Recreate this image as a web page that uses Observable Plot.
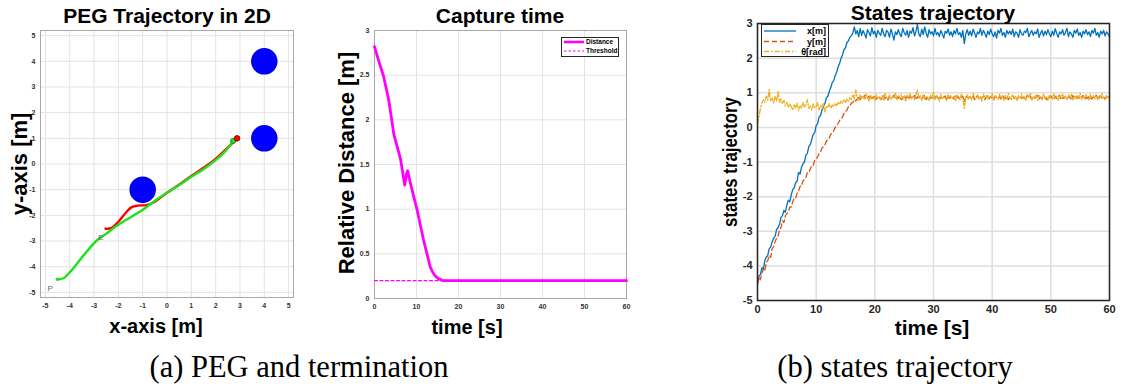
<!DOCTYPE html>
<html><head><meta charset="utf-8">
<script src="https://cdn.jsdelivr.net/npm/d3@7"></script>
<script src="https://cdn.jsdelivr.net/npm/@observablehq/plot@0.6"></script>
<style>
body{margin:0;background:#fff;}
#fig{position:relative;width:1121px;height:385px;overflow:hidden;background:#fff;font-family:"Liberation Sans",Arial,sans-serif;}
.t{position:absolute;white-space:nowrap;font-weight:bold;color:#000;transform:translate(-50%,-50%);line-height:1;}
.cap{font-family:"Liberation Serif",serif;font-weight:normal;}
.panel{position:absolute;top:0;}
.panel svg{overflow:visible;}
</style></head><body><div id="fig"></div>
<script>
// ---------- Panel (a) left: PEG trajectory ----------
const pegTicks = [-5,-4,-3,-2,-1,0,1,2,3,4,5];
const obstacleX = [4, 4, -1];
const obstacleY = [4, 1, -1];
const pursuerX = [-4.5,-4.25,-3.97,-3.42,-2.88,-2.53,-2.05,-1.51,-0.96,-0.41,0,0.55,1.0,1.5,2.0,2.4,2.72];
const pursuerY = [-4.49,-4.45,-4.19,-3.55,-2.97,-2.74,-2.4,-2.08,-1.76,-1.37,-1.12,-0.79,-0.5,-0.2,0.15,0.5,0.9];
const evaderX = [-2.53,-2.3,-2.0,-1.65,-1.45,-1.2,-0.85,-0.6,-0.3,0,0.55,1.0,1.5,2.0,2.4,2.88];
const evaderY = [-2.52,-2.5,-2.25,-1.85,-1.68,-1.62,-1.6,-1.52,-1.33,-1.12,-0.77,-0.47,-0.15,0.2,0.55,1.0];
const markLabels = ["P","E"];
const markLabelX = [-4.8,-2.72];
const markLabelY = [-4.85,-2.85];

// ---------- Panel (a) right: capture time ----------
const capTicksX = [0,10,20,30,40,50,60];
const capTicksY = [0,0.5,1,1.5,2,2.5,3];
const distT = [0,1,2.2,3.4,4.6,6.2,7.2,7.6,7.9,8.4,10.2,11.7,13.3,13.8,14.5,15.3,16.3,20,30,40,50,60];
const distV = [2.82,2.66,2.48,2.22,1.84,1.56,1.27,1.39,1.43,1.32,0.98,0.65,0.35,0.3,0.25,0.22,0.2,0.2,0.2,0.2,0.2,0.2];
const thresholdT = [0,60];
const thresholdV = [0.2,0.2];

// ---------- Panel (b): states trajectory ----------
const statesTicksX = [0,10,20,30,40,50,60];
const statesTicksY = [-5,-4,-3,-2,-1,0,1,2,3];
const DT = 0.25; // sample step [s]
const xState = [
-4.5,-4.3,-4.25,-4.05, -4.1,-3.85,-3.75,-3.7, -3.5,-3.45,-3.3,-3.2, -3.15,-2.95,-2.9,-2.8,
-2.6,-2.55,-2.4,-2.45, -2.25,-2.1,-2.15,-1.95, -1.8,-1.75,-1.6,-1.55, -1.3,-1.35,-1.15,-1.05,
-1.0,-0.8,-0.75,-0.55, -0.5,-0.35,-0.2,-0.15, 0.05,0.1,0.3,0.35, 0.5,0.6,0.7,0.85,
0.9,1.05,1.15,1.3, 1.35,1.5,1.6,1.75, 1.85,2.0,2.1,2.25, 2.3,2.45,2.5,2.6,
2.65,2.72,2.9,2.7, 2.8,
2.62,2.85,2.66,2.8, 2.7,2.58,2.82,2.74, 2.64,2.88,2.7,2.78, 2.6,2.8,2.72,2.66,
2.86,2.7,2.62,2.8, 2.75,2.6,2.84,2.7, 2.52,2.76,2.68,2.82, 2.7,2.62,2.86,2.74,
2.66,2.8,2.6,2.78, 2.72,2.88,2.64,2.76, 2.97,2.7,2.62,2.84, 2.68,2.9,2.72,2.6,
2.82,2.7,2.76,2.64, 2.86,2.68,2.74,2.62, 2.8,2.7,2.58,2.78, 2.72,2.84,2.66,2.76,
2.62,2.8,2.7,2.86, 2.68,2.74,2.6,2.8, 2.42,2.7,2.82,2.66, 2.78,2.64,2.84,2.72,
2.6,2.76,2.7,2.86, 2.66,2.8,2.72,2.6, 2.78,2.68,2.84,2.7, 2.62,2.76,2.58,2.8,
2.72,2.86,2.66,2.74, 2.6,2.8,2.7,2.78, 2.68,2.84,2.62,2.76, 2.72,2.6,2.82,2.7,
2.66,2.78,2.74,2.86, 2.62,2.72,2.8,2.66, 2.76,2.7,2.84,2.6, 2.72,2.8,2.64,2.78,
2.68,2.82,2.7,2.62, 2.78,2.66,2.85,2.72, 2.6,2.76,2.7,2.82, 2.66,2.74,2.86,2.62,
2.76,2.7,2.6,2.8, 2.72,2.84,2.66,2.74, 2.6,2.78,2.7,2.82, 2.68,2.76,2.62,2.8,
2.72,2.86,2.66,2.74, 2.6,2.78,2.7,2.8, 2.64,2.76,2.7,2.62];
const yState = [
-4.55,-4.35,-4.4,-4.2, -4.1,-4.15,-3.9,-3.85, -3.7,-3.75,-3.5,-3.45, -3.3,-3.2,-3.15,-2.95,
-2.9,-2.7,-2.75,-2.55, -2.5,-2.45,-2.3,-2.3, -2.15,-2.05,-2.05,-1.9, -1.85,-1.7,-1.7,-1.55,
-1.5,-1.45,-1.3,-1.3, -1.2,-1.1,-1.1,-0.95, -0.9,-0.85,-0.75,-0.7, -0.6,-0.55,-0.5,-0.4,
-0.35,-0.3,-0.2,-0.15, -0.1,0.0,0.05,0.12, 0.2,0.25,0.3,0.4, 0.45,0.5,0.6,0.62,
0.7,0.72,0.8,0.76, 0.82,
0.9,0.8,0.88,0.84, 0.92,0.82,0.86,0.9, 0.8,0.88,0.84,0.93, 0.82,0.87,0.9,0.8,
0.86,0.92,0.83,0.88, 0.79,0.9,0.85,0.87, 0.92,0.82,0.88,0.84, 0.9,0.8,0.86,0.93,
0.84,0.88,0.81,0.9, 0.86,0.83,0.92,0.8, 0.88,0.85,0.9,0.82, 0.87,0.93,0.8,0.86,
0.9,0.84,0.88,0.82, 0.85,0.92,0.8,0.87, 0.83,0.89,0.86,0.91, 0.8,0.87,0.84,0.9,
0.86,0.82,0.92,0.85, 0.88,0.8,0.87,0.9, 0.74,0.86,0.92,0.83, 0.88,0.84,0.9,0.8,
0.86,0.92,0.82,0.88, 0.84,0.9,0.8,0.87, 0.92,0.83,0.88,0.85, 0.8,0.9,0.86,0.84,
0.88,0.82,0.93,0.86, 0.84,0.9,0.8,0.87, 0.86,0.92,0.83,0.88, 0.8,0.87,0.9,0.84,
0.88,0.82,0.86,0.93, 0.85,0.9,0.8,0.87, 0.84,0.88,0.92,0.82, 0.87,0.83,0.9,0.86,
0.8,0.88,0.85,0.91, 0.86,0.82,0.9,0.84, 0.88,0.93,0.8,0.86, 0.84,0.9,0.83,0.88,
0.86,0.8,0.92,0.85, 0.9,0.84,0.87,0.82, 0.88,0.92,0.8,0.86, 0.84,0.9,0.86,0.82,
0.88,0.85,0.93,0.8, 0.86,0.9,0.84,0.88, 0.82,0.92,0.86,0.9];
const thetaState = [
0.1,0.3,0.55,0.7, 0.8,0.72,0.9,0.78, 1.1,0.75,0.85,0.7, 0.9,0.76,1.05,0.72,
0.82,0.68,0.78,0.62, 0.72,0.58,0.68,0.6, 0.5,0.65,0.55,0.7, 0.48,0.62,0.56,0.72,
0.58,0.66,0.8,0.55, 0.62,0.5,0.68,0.56, 0.6,0.72,0.5,0.64, 0.55,0.7,0.45,0.62,
0.58,0.68,0.55,0.65, 0.6,0.7,0.62,0.74, 0.66,0.76,0.7,0.8, 0.72,0.82,0.75,0.86,
0.8,0.95,0.82,1.08, 0.86,
0.78,0.95,0.84,0.92, 0.8,0.98,0.86,0.76, 0.94,0.82,0.9,0.78, 0.96,0.84,0.88,0.8,
0.92,0.76,0.98,0.86, 0.82,0.94,0.8,0.9, 0.86,1.0,0.78,0.92, 0.84,0.96,0.8,0.9,
0.76,0.94,0.86,0.98, 0.82,0.9,0.8,0.95, 1.08,0.84,0.92,0.78, 0.96,0.82,0.9,0.86,
0.78,0.94,0.84,1.02, 0.8,0.92,0.86,0.76, 0.95,0.82,0.9,0.84, 0.78,0.96,0.86,0.92,
0.82,0.9,0.76,0.94, 0.86,0.8,0.96,0.84, 0.55,0.88,0.94,0.8, 0.92,0.78,0.98,0.86,
0.84,0.94,0.8,0.9, 0.76,0.96,0.86,0.92, 0.82,0.9,0.84,0.98, 0.78,0.92,0.86,0.8,
0.96,0.84,0.9,0.78, 0.92,0.82,0.98,0.86, 0.8,0.94,0.84,0.9, 0.76,0.92,0.86,0.96,
0.82,0.9,0.78,0.94, 0.86,1.0,0.8,0.9, 0.84,0.94,0.78,0.92, 0.88,0.8,0.96,0.84,
0.9,0.78,0.94,0.86, 0.82,0.98,0.84,0.9, 0.78,0.92,0.86,0.96, 0.84,0.9,0.8,0.94,
0.86,0.96,0.78,0.9, 0.82,0.92,0.86,0.98, 0.8,0.9,0.84,0.94, 0.88,0.78,0.96,0.86,
0.92,0.82,0.9,0.8, 0.94,0.84,0.98,0.86, 0.8,0.92,0.86,0.9];
const seriesNames = ["x[m]","y[m]","\u03b8[rad]"];

// ---------- build tables ----------
const zipXY = (xs, ys) => xs.map((x,i) => ({x, y: ys[i]}));
const obstacles = zipXY(obstacleX, obstacleY);
const pursuer = zipXY(pursuerX, pursuerY);
const evader = zipXY(evaderX, evaderY);
const labels = markLabels.map((s,i) => ({s, x: markLabelX[i], y: markLabelY[i]}));
const dist = zipXY(distT, distV);
const thr = zipXY(thresholdT, thresholdV);
const toSeries = arr => arr.map((v,i) => ({t: i*DT, v}));
const sx = toSeries(xState), sy = toSeries(yState), sth = toSeries(thetaState);

const fig = document.getElementById("fig");
const FONT = '"Liberation Sans", Arial, sans-serif';

function addPanel(left, svg){
  const d = document.createElement("div");
  d.className = "panel"; d.style.left = left + "px";
  d.appendChild(svg); fig.appendChild(d);
}
function addText(txt, cx, cy, size, opts = {}){
  const d = document.createElement("div");
  d.className = "t" + (opts.cls ? " " + opts.cls : "");
  d.textContent = txt;
  d.style.left = cx + "px"; d.style.top = cy + "px";
  d.style.fontSize = size + "px";
  let tr = "translate(-50%,-50%)";
  if (opts.rot) tr += " rotate(-90deg)";
  if (opts.sx) tr += ` scaleX(${opts.sx})`;
  d.style.transform = tr;
  fig.appendChild(d);
}

// Panel 1
addPanel(0, Plot.plot({
  width: 310, height: 345, marginLeft: 40, marginRight: 17, marginTop: 30, marginBottom: 48,
  style: {fontFamily: FONT, background: "transparent"},
  x: {domain: [-5.2, 5.2]}, y: {domain: [-5.2, 5.2]},
  marks: [
    Plot.gridX(pegTicks, {stroke: "#e3e3e3", strokeOpacity: 1}),
    Plot.gridY(pegTicks, {stroke: "#e3e3e3", strokeOpacity: 1}),
    Plot.frame({stroke: "#a8a8a8"}),
    Plot.axisX(pegTicks, {tickSize: 0, tickPadding: 6, fontSize: 7, fontWeight: "bold", fill: "#333", tickFormat: String, label: null}),
    Plot.axisY(pegTicks, {tickSize: 0, tickPadding: 5, fontSize: 7, fontWeight: "bold", fill: "#333", tickFormat: String, label: null}),
    Plot.dot(obstacles, {x: "x", y: "y", r: 12.5, fill: "#0000ff", stroke: "#0000ee"}),
    Plot.line(evader, {x: "x", y: "y", stroke: "#ff0000", strokeWidth: 2.4, curve: "catmull-rom"}),
    Plot.line(pursuer, {x: "x", y: "y", stroke: "#1fe21f", strokeWidth: 2.4, curve: "catmull-rom"}),
    Plot.dot([pursuer[0]], {x: "x", y: "y", r: 1.8, fill: "#1fe21f"}),
    Plot.dot([pursuer[pursuer.length-1]], {x: "x", y: "y", r: 2.6, fill: "#1fe21f", stroke: "#2a6a2a", strokeWidth: 0.8}),
    Plot.dot([evader[evader.length-1]], {x: "x", y: "y", r: 2.8, fill: "#ff0000", stroke: "#600", strokeWidth: 0.8}),
    Plot.text(labels, {x: "x", y: "y", text: "s", fontSize: 8, fill: "#666"})
  ]
}));

// Panel 2
addPanel(320, Plot.plot({
  width: 320, height: 345, marginLeft: 54, marginRight: 14, marginTop: 30, marginBottom: 47,
  style: {fontFamily: FONT, background: "transparent"},
  x: {domain: [0, 60]}, y: {domain: [0, 3]},
  marks: [
    Plot.gridX(capTicksX, {stroke: "#e3e3e3", strokeOpacity: 1}),
    Plot.gridY(capTicksY, {stroke: "#e3e3e3", strokeOpacity: 1}),
    Plot.frame({stroke: "#a8a8a8"}),
    Plot.axisX(capTicksX, {tickSize: 0, tickPadding: 6, fontSize: 7, fontWeight: "bold", fill: "#333", tickFormat: String, label: null}),
    Plot.axisY(capTicksY, {tickSize: 0, tickPadding: 5, fontSize: 7, fontWeight: "bold", fill: "#333", tickFormat: String, label: null}),
    Plot.line(thr, {x: "x", y: "y", stroke: "#ff00ff", strokeWidth: 1.2, strokeDasharray: "3,2.5"}),
    Plot.line(dist, {x: "x", y: "y", stroke: "#ff00ff", strokeWidth: 2.8, strokeLinejoin: "round"})
  ]
}));

// Panel 3
addPanel(700, Plot.plot({
  width: 421, height: 345, marginLeft: 57, marginRight: 12, marginTop: 23, marginBottom: 45,
  style: {fontFamily: FONT, background: "transparent"},
  x: {domain: [0, 60]}, y: {domain: [-5, 3]},
  marks: [
    Plot.gridX(statesTicksX, {stroke: "#dedede", strokeOpacity: 1, strokeWidth: 1.5}),
    Plot.gridY(statesTicksY, {stroke: "#dedede", strokeOpacity: 1, strokeWidth: 1.5}),
    Plot.axisX(statesTicksX, {tickSize: 0, tickPadding: 5, fontSize: 11, fontWeight: "bold", fill: "#262626", tickFormat: String, label: null}),
    Plot.axisY(statesTicksY, {tickSize: 0, tickPadding: 5, fontSize: 11, fontWeight: "bold", fill: "#262626", tickFormat: String, label: null}),
    Plot.line(sx, {x: "t", y: "v", stroke: "#0072BD", strokeWidth: 1.3}),
    Plot.line(sy, {x: "t", y: "v", stroke: "#D95319", strokeWidth: 1.3, strokeDasharray: "5,3"}),
    Plot.line(sth, {x: "t", y: "v", stroke: "#EDB120", strokeWidth: 1.3, strokeDasharray: "5,2,1.5,2"}),
    Plot.frame({stroke: "#262626", strokeWidth: 1.5})
  ]
}));

// Titles and axis labels
addText("PEG Trajectory in 2D", 167, 15, 21);
addText("Capture time", 500, 15, 21);
addText("States trajectory", 933, 12, 21);
addText("y-axis [m]", 20, 164, 22, {rot: true});
addText("x-axis [m]", 156, 326, 20);
addText("Relative Distance [m]", 347, 163, 22, {rot: true});
addText("time [s]", 467, 327, 20);
addText("states trajectory", 729, 162, 21, {rot: true, sx: 0.8});
addText("time [s]", 932, 327, 21);
addText("(a) PEG and termination", 299, 367, 30.5, {cls: "cap"});
addText("(b) states trajectory", 895, 367, 30.5, {cls: "cap"});

// Legends
function addLegend(left, top, w, h, items, fontSize, lineLen, textX){
  const ns = "http://www.w3.org/2000/svg";
  const s = document.createElementNS(ns, "svg");
  s.setAttribute("width", w); s.setAttribute("height", h);
  s.style.position = "absolute"; s.style.left = left + "px"; s.style.top = top + "px";
  s.innerHTML = `<rect x="0.5" y="0.5" width="${w-1}" height="${h-1}" fill="#fff" stroke="#262626" stroke-width="1"/>` +
    items.map(it => `<line x1="${it.x0}" x2="${it.x0+lineLen}" y1="${it.y}" y2="${it.y}" stroke="${it.c}" stroke-width="${it.w}" ${it.dash ? `stroke-dasharray="${it.dash}"` : ""}/>` +
      `<text x="${textX}" y="${it.y}" dy="0.35em" font-family='${FONT}' font-weight="bold" font-size="${fontSize}" fill="#000" ${it.anchor ? `text-anchor="${it.anchor}"` : ""}>${it.label}</text>`).join("");
  fig.appendChild(s);
}
addLegend(561, 37, 58, 20, [
  {label: "Distance", y: 5, x0: 3, c: "#ff00ff", w: 2.6},
  {label: "Threshold", y: 14, x0: 3, c: "#ff00ff", w: 1, dash: "2.5,2"}
], 6.5, 20, 25);
addLegend(761, 24, 68, 33, [
  {label: seriesNames[0], y: 7, x0: 3, c: "#0072BD", w: 1.3, anchor: "end"},
  {label: seriesNames[1], y: 17.5, x0: 3, c: "#D95319", w: 1.3, dash: "5,3", anchor: "end"},
  {label: seriesNames[2], y: 27.5, x0: 3, c: "#EDB120", w: 1.3, dash: "5,2,1.5,2", anchor: "end"}
], 9, 32, 65);
</script></body></html>
